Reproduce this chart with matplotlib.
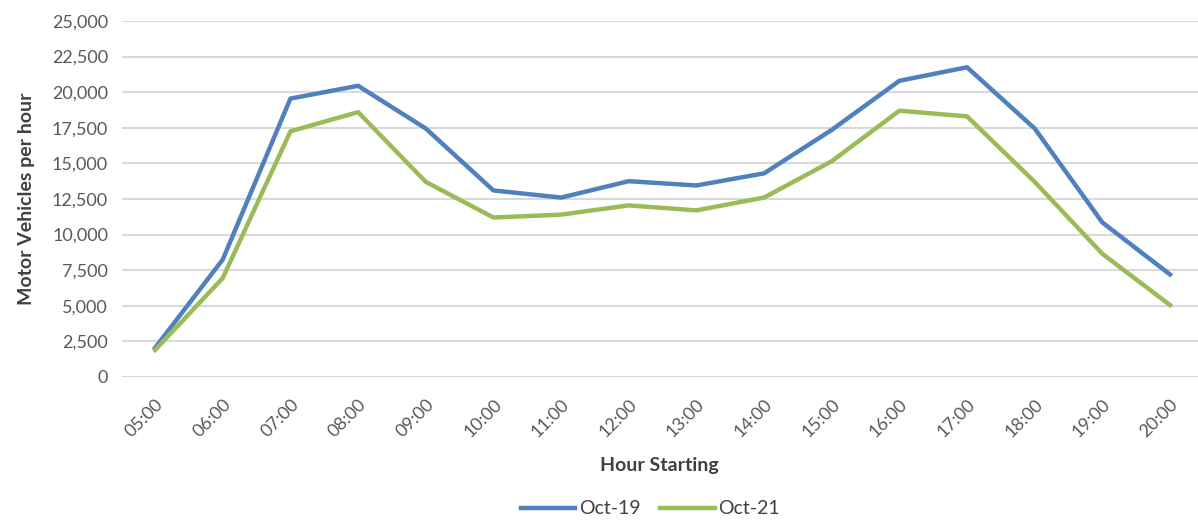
import numpy as np
import matplotlib.pyplot as plt
from matplotlib.ticker import FuncFormatter

plt.rcParams['font.family'] = ['Lato', 'DejaVu Sans']

hours = ['05:00', '06:00', '07:00', '08:00', '09:00', '10:00', '11:00', '12:00',
         '13:00', '14:00', '15:00', '16:00', '17:00', '18:00', '19:00', '20:00']
oct19 = [2050, 8250, 19550, 20450, 17450, 13100, 12600, 13750,
         13450, 14300, 17350, 20800, 21750, 17450, 10850, 7200]
oct21 = [1900, 6950, 17250, 18600, 13700, 11200, 11400, 12050,
         11700, 12600, 15150, 18700, 18300, 13700, 8650, 5050]

fig = plt.figure(figsize=(11.98, 5.22), dpi=100)
ax = fig.add_axes([0.1018, 0.2778, 0.898, 0.682])

x = np.arange(len(hours))
ax.plot(x, oct19, color='#4F81BD', lw=3.2, label='Oct-19', solid_joinstyle='round')
ax.plot(x, oct21, color='#9BBB59', lw=3.2, label='Oct-21', solid_joinstyle='round')

ax.set_xlim(-0.49, 15.41)
ax.set_ylim(0, 25000)
ax.set_yticks(np.arange(0, 25001, 2500))
ax.yaxis.set_major_formatter(FuncFormatter(lambda v, p: f'{int(v):,}'))
ax.set_xticks(x)
ax.set_xticklabels(hours, rotation=45, ha='right', rotation_mode='anchor')
ax.grid(axis='y', color='#D9D9D9', lw=1.5)
ax.set_axisbelow(True)
for s in ax.spines.values():
    s.set_visible(False)
ax.tick_params(length=0, labelsize=13, colors='#595959', pad=10)
ax.tick_params(axis='x', pad=14)

ax.set_ylabel('Motor Vehicles per hour', fontsize=14, fontweight='bold', color='#404040', labelpad=12)
ax.set_xlabel('Hour Starting', fontsize=14, fontweight='bold', color='#404040', labelpad=12)

fig.legend(loc='center', bbox_to_anchor=(0.543, 0.025), ncol=2, frameon=False,
           fontsize=14, handlelength=2.8, handletextpad=0.2, columnspacing=1.0,
           labelcolor='#404040')

fig.savefig('out.png', dpi=100)
